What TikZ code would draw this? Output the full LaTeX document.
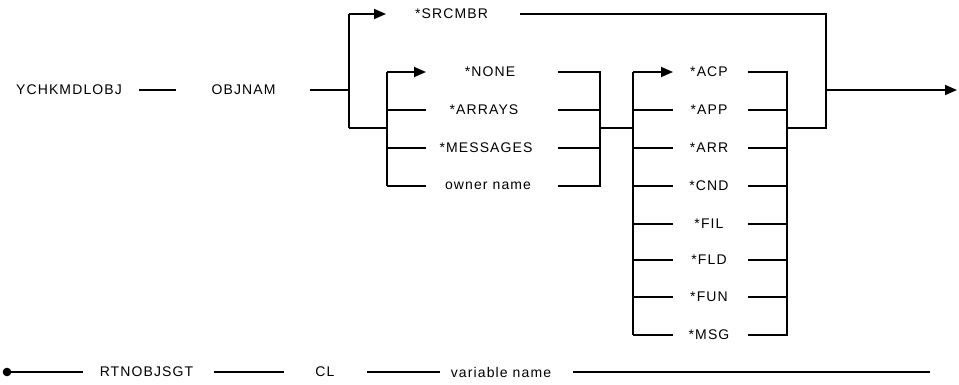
\documentclass[tikz,border=0pt]{standalone}
\usepackage{fontspec}
\setmainfont{Liberation Sans}[LetterSpace=8]
\usetikzlibrary{arrows.meta}
\tikzset{
  lbl/.style={font=\fontsize{14}{16}\selectfont, inner sep=0pt, anchor=center},
  conn/.style={line width=1.8pt, line join=miter},
  arr/.style={conn, -{Triangle[length=12pt,width=10pt]}},
}
\begin{document}
\begin{tikzpicture}[x=1pt,y=-1pt]
\useasboundingbox (0,0) rectangle (959,385);
% ---- labels, main row
\node[lbl] (ychk) at (69,90) {YCHKMDLOBJ};
\node[lbl] (objnam) at (243.5,90) {OBJNAM};
\node[lbl] (srcmbr) at (451.5,14) {*SRCMBR};
% group 1
\node[lbl] (none) at (490,72) {*NONE};
\node[lbl] (arrays) at (484,110) {*ARRAYS};
\node[lbl] (messages) at (486,148) {*MESSAGES};
\node[lbl] (owner) at (488,186) {owner name};
% group 2
\node[lbl] (acp) at (709,72) {*ACP};
\node[lbl] (app) at (709,110) {*APP};
\node[lbl] (arr) at (709,148) {*ARR};
\node[lbl] (cnd) at (709,186) {*CND};
\node[lbl] (fil) at (709,224) {*FIL};
\node[lbl] (fld) at (709,260) {*FLD};
\node[lbl] (fun) at (709,297) {*FUN};
\node[lbl] (msg) at (709,335) {*MSG};
% bottom row
\node[lbl] (rtn) at (146.5,372) {RTNOBJSGT};
\node[lbl] (cl) at (325,372) {CL};
\node[lbl] (var) at (501,372) {variable name};

% ---- junction coordinates
\coordinate (m1) at (139,90); \coordinate (m2) at (176,90);
\coordinate (m3) at (310,90); \coordinate (j1) at (349,90);
\coordinate (j1t) at (349,14); \coordinate (j1b) at (349,128);
\coordinate (srcin) at (386,14); \coordinate (srcout) at (520,14);
\coordinate (rt) at (826,14); \coordinate (rm) at (826,90); \coordinate (rb) at (826,128);
\coordinate (endtip) at (957,90);
% group 1
\coordinate (g1l) at (387,128);
\coordinate (g1lt) at (387,72); \coordinate (g1lb) at (387,186);
\coordinate (noneL) at (426,72); \coordinate (arraysL) at (426,110);
\coordinate (messL) at (426,148); \coordinate (ownL) at (426,186);
\coordinate (noneR) at (558,72); \coordinate (arraysR) at (558,110);
\coordinate (messR) at (558,148); \coordinate (ownR) at (558,186);
\coordinate (g1rt) at (600,72); \coordinate (g1rb) at (600,186);
\coordinate (g1r) at (600,128);
% group 2
\coordinate (g2l) at (633,128);
\coordinate (g2lt) at (633,72); \coordinate (g2lb) at (633,335);
\coordinate (g2rt) at (787,72); \coordinate (g2rb) at (787,335);
\coordinate (g2r) at (787,128);
\foreach \n/\y in {acp/72,app/110,arr/148,cnd/186,fil/224,fld/260,fun/297,msg/335}{
  \coordinate (\n L) at (673,\y);
  \coordinate (\n R) at (748,\y);
  \coordinate (\n A) at (633,\y);
  \coordinate (\n B) at (787,\y);
}
% bottom
\coordinate (b0) at (7,372); \coordinate (b1) at (83,372);
\coordinate (b2) at (214,372); \coordinate (b3) at (284,372);
\coordinate (b4) at (367,372); \coordinate (b5) at (440,372);
\coordinate (b6) at (573,372); \coordinate (b7) at (930,372);

% ---- connectors
\draw[conn] (m1) -- (m2);
\draw[conn] (m3) -- (j1);
\draw[conn] (j1t) -- (j1b);
\draw[arr] (j1t) -- (srcin);
\draw[conn] (srcout) -- (rt) -- (rb) -- (g2r);
\draw[arr] (rm) -- (endtip);
\draw[conn] (j1b) -- (g1l);
\draw[conn] (g1lt) -- (g1lb);
\draw[arr] (g1lt) -- (noneL);
\draw[conn] (387,110) -- (arraysL);
\draw[conn] (387,148) -- (messL);
\draw[conn] (g1lb) -- (ownL);
\draw[conn] (noneR) -- (g1rt) -- (g1rb) -- (ownR);
\draw[conn] (arraysR) -- (600,110);
\draw[conn] (messR) -- (600,148);
\draw[conn] (g1r) -- (g2l);
\draw[conn] (g2lt) -- (g2lb);
\draw[arr] (acpA) -- (acpL);
\foreach \n in {app,arr,cnd,fil,fld,fun,msg}{
  \draw[conn] (\n A) -- (\n L);
}
\draw[conn] (acpR) -- (g2rt) -- (g2rb) -- (msgR);
\foreach \n in {app,arr,cnd,fil,fld,fun}{
  \draw[conn] (\n R) -- (\n B);
}
% bottom
\fill (b0) circle (4.3pt);
\draw[conn] (b0) -- (b1);
\draw[conn] (b2) -- (b3);
\draw[conn] (b4) -- (b5);
\draw[conn] (b6) -- (b7);
\end{tikzpicture}
\end{document}
